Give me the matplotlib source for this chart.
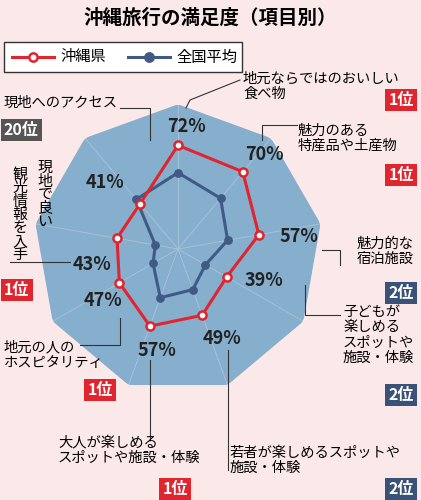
import numpy as np
import matplotlib
matplotlib.use("Agg")
import matplotlib.pyplot as plt
from matplotlib.patches import Rectangle
from matplotlib.lines import Line2D

plt.rcParams['font.family'] = ['Noto Sans CJK JP', 'DejaVu Sans']

categories = ["地元ならではのおいしい食べ物", "魅力のある特産品や土産物", "魅力的な宿泊施設",
              "子どもが楽しめるスポットや施設・体験", "若者が楽しめるスポットや施設・体験",
              "大人が楽しめるスポットや施設・体験", "地元の人のホスピタリティ",
              "現地で良い観光情報を入手", "現地へのアクセス"]
okinawa = [72, 70, 57, 39, 49, 57, 47, 43, 41]
national = [53, 46, 35, 22, 30, 36, 20, 16, 45]
ranks = ["1位", "1位", "2位", "2位", "2位", "1位", "1位", "1位", "20位"]

W, H = 421, 500
fig = plt.figure(figsize=(W/100, H/100), dpi=100)
fig.patch.set_facecolor("#fbe9ea")
def fx(x): return x / W
def fy(y): return 1 - y / H

RED = "#e0252f"; NAVY = "#3a5278"; BLUE2 = "#405a85"; GRAY = "#555555"; FILL = "#86aecd"
cx, cy, R = 178, 249, 144
ax = fig.add_axes([fx(cx-R), fy(cy+R), 2*R/W, 2*R/H], projection="polar")
ax.set_theta_zero_location("N"); ax.set_theta_direction(-1)
n = len(categories)
ang = np.linspace(0, 2*np.pi, n, endpoint=False)
ac = np.append(ang, ang[0])
ax.fill(ac, np.ones(n+1), color=FILL, zorder=1)
for a in ang:
    ax.plot([a, a], [0, 1], color="#a9c4da", lw=0.6, zorder=2)
ax.plot(ac, np.append(national, national[0]) / 100, color=BLUE2, lw=2.2, zorder=3)
ax.scatter(ang, np.array(national)/100, s=28, color=BLUE2, zorder=4)
ax.plot(ac, np.append(okinawa, okinawa[0]) / 100, color=RED, lw=2.2, zorder=5)
ax.scatter(ang, np.array(okinawa)/100, s=34, facecolor="white", edgecolor=RED, lw=1.8, zorder=6)
ax.set_ylim(0, 1); ax.axis("off"); ax.patch.set_alpha(0)

fig.text(fx(210), fy(18), "沖縄旅行の満足度（項目別）", ha="center", va="center", fontsize=14, weight="bold")
fig.patches.append(Rectangle((fx(4), fy(72)), fx(238), 30/H, transform=fig.transFigure,
                             facecolor="white", edgecolor="#333", lw=1))
for x0, c, face, lab in [(12, RED, "white", "沖縄県"), (128, BLUE2, BLUE2, "全国平均")]:
    fig.add_artist(Line2D([fx(x0), fx(x0+42)], [fy(57)]*2, color=c, lw=2.2, transform=fig.transFigure))
    fig.add_artist(Line2D([fx(x0+21)], [fy(57)], marker="o", ms=6, mfc=face, mec=c, mew=1.8,
                          transform=fig.transFigure))
    fig.text(fx(x0+48), fy(57), lab, va="center", fontsize=11)

pct_pos = [(187, 127), (264, 155), (299, 237), (264, 280), (222, 338), (157, 350), (103, 300), (92, 265), (105, 183)]
for (x, y), v in zip(pct_pos, okinawa):
    fig.text(fx(x), fy(y), f"{v}%", ha="center", va="center", fontsize=13, weight="bold", color="#222")

fs = 10.3
fig.text(fx(243), fy(86), "地元ならではのおいしい\n食べ物", ha="left", va="center", fontsize=fs, linespacing=1.1)
fig.text(fx(298), fy(138), "魅力のある\n特産品や土産物", ha="left", va="center", fontsize=fs, linespacing=1.1)
fig.text(fx(414), fy(251), "魅力的な\n宿泊施設", ha="right", va="center", fontsize=fs, linespacing=1.1)
fig.text(fx(343), fy(335), "子どもが\n楽しめる\nスポットや\n施設・体験", ha="left", va="center", fontsize=fs, linespacing=1.1)
fig.text(fx(230), fy(460), "若者が楽しめるスポットや\n施設・体験", ha="left", va="center", fontsize=fs, linespacing=1.1)
fig.text(fx(58), fy(450), "大人が楽しめる\nスポットや施設・体験", ha="left", va="center", fontsize=fs, linespacing=1.1)
fig.text(fx(4), fy(355), "地元の人の\nホスピタリティ", ha="left", va="center", fontsize=fs, linespacing=1.1)
fig.text(fx(4), fy(103), "現地へのアクセス", ha="left", va="center", fontsize=fs)
fig.text(fx(20), fy(215), "\n".join("観光情報を入手"), ha="center", va="center", fontsize=fs+0.5, linespacing=0.95)
fig.text(fx(45), fy(195), "\n".join("現地で良い"), ha="center", va="center", fontsize=fs+0.5, linespacing=0.95)

leaders = [[(240, 80), (190, 100), (186, 108)],
           [(297, 125), (262, 125), (262, 140)],
           [(340, 265), (340, 250), (322, 250)],
           [(340, 315), (305, 315), (305, 285)],
           [(228, 470), (228, 350)],
           [(150, 440), (150, 360)],
           [(80, 345), (120, 345), (120, 318)],
           [(10, 262), (58, 262), (70, 262)],
           [(120, 108), (150, 108), (150, 140)]]
for pts in leaders:
    xs, ys = zip(*pts)
    fig.add_artist(Line2D([fx(x) for x in xs], [fy(y) for y in ys], color="#333", lw=0.8,
                          transform=fig.transFigure))

badge_pos = [(414, 100, "r"), (414, 175, "r"), (414, 293, "r"), (414, 395, "r"), (414, 489, "r"),
             (175, 489, "c"), (100, 390, "c"), (4, 290, "l"), (4, 130, "l")]
for (x, y, al), r in zip(badge_pos, ranks):
    c = RED if r == "1位" else (NAVY if r == "2位" else GRAY)
    ha = {"r": "right", "c": "center", "l": "left"}[al]
    fig.text(fx(x), fy(y), r, ha=ha, va="center", fontsize=11.5, weight="bold", color="white",
             bbox=dict(boxstyle="square,pad=0.2", facecolor=c, edgecolor="none"))

fig.savefig("out.png", dpi=100, facecolor=fig.get_facecolor())
